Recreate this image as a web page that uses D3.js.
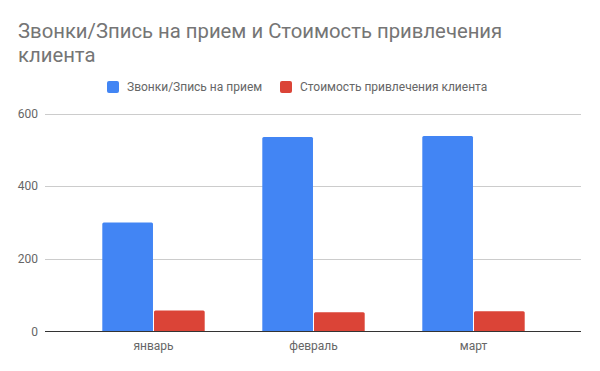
<!DOCTYPE html>
<html>
<head>
<meta charset="utf-8">
<script src="https://cdnjs.cloudflare.com/ajax/libs/d3/7.8.5/d3.min.js"></script>
<style>
  body { margin: 0; background: #fff; }
  text { font-family: Roboto, "Noto Sans", sans-serif; }
</style>
</head>
<body>
<script>
// chart data
const months = ["январь", "февраль", "март"];
const seriesNames = ["Звонки/Зпись на прием", "Стоимость привлечения клиента"];
const calls = [300, 535, 538];
const cost = [58, 53, 56];
const yTicks = [0, 200, 400, 600];
const colors = ["#4285f4", "#db4437"];

const width = 600, height = 371;

const svg = d3.select("body").append("svg")
  .attr("width", width)
  .attr("height", height);

// title
svg.append("text")
  .attr("x", 18).attr("y", 38)
  .style("font-size", "20.3px").style("fill", "#757575")
  .text("Звонки/Зпись на прием и Стоимость привлечения");
svg.append("text")
  .attr("x", 18).attr("y", 62)
  .style("font-size", "20.3px").style("fill", "#757575")
  .text("клиента");

// legend
const legend = svg.append("g");
const legendX = [107, 280];
seriesNames.forEach((name, i) => {
  legend.append("rect")
    .attr("x", legendX[i]).attr("y", 81)
    .attr("width", 12).attr("height", 12).attr("rx", 2)
    .attr("fill", colors[i]);
  legend.append("text")
    .attr("x", legendX[i] + 20).attr("y", 91)
    .style("font-size", "12px").style("fill", "#666")
    .text(name);
});

// scales
const y = d3.scaleLinear().domain([0, 600]).range([331.5, 113.5]);
const x = d3.scaleBand().domain(months).range([73.5, 553.5])
  .paddingInner(0.36).paddingOuter(0.18);
const xs = d3.scaleBand().domain([0, 1]).range([0, x.bandwidth()]).paddingInner(0.02);

// gridlines
svg.append("g").selectAll("line")
  .data(yTicks.filter(d => d !== 0))
  .enter().append("line")
  .attr("x1", 45).attr("x2", 581)
  .attr("y1", d => Math.round(y(d)) + 0.5)
  .attr("y2", d => Math.round(y(d)) + 0.5)
  .style("stroke", "#ccc");

// y labels
svg.append("g").selectAll("text")
  .data(yTicks)
  .enter().append("text")
  .attr("x", 38).attr("y", d => y(d) + 4)
  .attr("text-anchor", "end")
  .style("font-size", "12px").style("fill", "#666")
  .text(d => d);

// bars
const rows = months.map((m, i) => ({ m, vals: [calls[i], cost[i]] }));
const groups = svg.append("g").selectAll("g")
  .data(rows)
  .enter().append("g")
  .attr("transform", d => `translate(${x(d.m)},0)`);

groups.selectAll("path")
  .data(d => d.vals.map((v, i) => ({ v, i })))
  .enter().append("path")
  .attr("fill", d => colors[d.i])
  .attr("d", d => {
    const x0 = xs(d.i), w = xs.bandwidth(), top = y(d.v), bot = y(0), r = 1.5;
    return `M${x0},${bot}V${top + r}Q${x0},${top} ${x0 + r},${top}H${x0 + w - r}Q${x0 + w},${top} ${x0 + w},${top + r}V${bot}Z`;
  });

// baseline
svg.append("line")
  .attr("x1", 45).attr("x2", 581)
  .attr("y1", 331.5).attr("y2", 331.5)
  .style("stroke", "#333");

// x labels
svg.append("g").selectAll("text")
  .data(months)
  .enter().append("text")
  .attr("x", d => x(d) + x.bandwidth() / 2)
  .attr("y", 350)
  .attr("text-anchor", "middle")
  .style("font-size", "12px").style("fill", "#666")
  .text(d => d);
</script>
</body>
</html>
